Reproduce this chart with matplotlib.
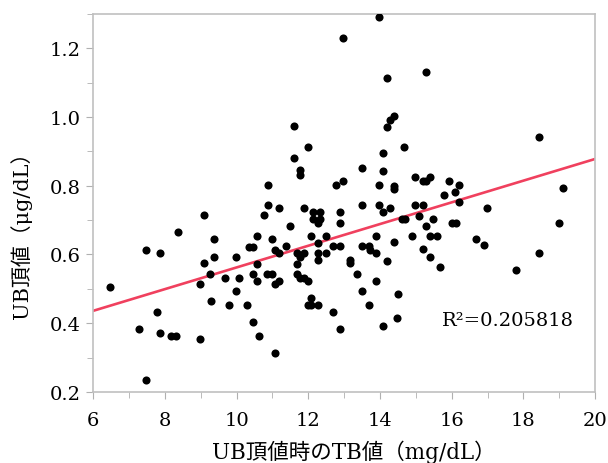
import numpy as np
import matplotlib
matplotlib.use("Agg")
import matplotlib.pyplot as plt
from matplotlib.ticker import MultipleLocator

# TB value at UB peak (mg/dL) and UB peak value (ug/dL)
tb_vals = [
    6.47, 7.27, 7.48, 7.48, 7.78, 7.87, 7.87, 8.17, 8.30, 8.38,
    8.98, 8.98, 9.08, 9.08, 9.26, 9.28, 9.37, 9.37, 9.67, 9.78,
    9.98, 9.98, 10.08, 10.28, 10.34, 10.47, 10.56, 10.56, 10.47, 10.56,
    10.47, 10.64,
    10.89, 10.89, 10.77, 11.19, 11.49, 11.88, 10.98, 11.08, 11.19, 11.39,
    11.68, 11.77, 11.88, 11.68, 10.84, 10.98, 11.08, 11.19, 11.68, 11.77,
    11.88, 11.98, 12.07, 11.98, 12.07, 12.28, 12.68, 12.89, 11.08, 12.07,
    12.28, 12.49, 12.28, 12.49, 12.28, 12.68, 12.89, 12.14, 12.33, 12.14,
    12.33, 12.28, 12.89, 12.89, 12.78, 12.98, 13.17, 13.17, 11.59, 11.99,
    11.59, 11.77, 11.77, 12.98,
    13.49, 13.49, 13.98, 14.08, 14.08, 14.19, 14.28, 14.39, 14.39, 14.39,
    13.98, 14.08, 14.28, 13.89, 14.39, 13.49, 13.68, 13.73, 13.89, 14.19,
    13.37, 13.89, 13.49, 13.68, 14.51, 14.47, 14.08, 13.98, 15.29, 14.19,
    14.68,
    14.98, 15.19, 15.29, 15.40, 15.91, 16.21, 16.09, 15.79, 16.21, 16.99,
    14.98, 15.19, 15.10, 14.61, 14.70, 15.49, 15.29, 16.00, 16.12, 14.88,
    15.38, 15.58, 15.19, 16.68, 16.90, 18.42, 15.38, 15.68, 17.79, 18.42,
    19.10, 18.99,
]
ub_vals = [
    0.504, 0.384, 0.235, 0.614, 0.433, 0.603, 0.373, 0.364, 0.364, 0.664,
    0.353, 0.513, 0.714, 0.575, 0.544, 0.464, 0.644, 0.593, 0.533, 0.454,
    0.593, 0.494, 0.533, 0.454, 0.622, 0.622, 0.654, 0.572, 0.544, 0.524,
    0.403, 0.364,
    0.803, 0.744, 0.714, 0.734, 0.683, 0.734, 0.644, 0.614, 0.604, 0.624,
    0.604, 0.594, 0.604, 0.572, 0.544, 0.544, 0.513, 0.524, 0.544, 0.533,
    0.533, 0.524, 0.473, 0.454, 0.454, 0.454, 0.433, 0.384, 0.314, 0.654,
    0.633, 0.654, 0.604, 0.604, 0.584, 0.624, 0.624, 0.724, 0.724, 0.703,
    0.703, 0.693, 0.724, 0.693, 0.803, 0.813, 0.584, 0.575, 0.973, 0.913,
    0.882, 0.845, 0.832, 1.231,
    0.852, 0.744, 0.803, 0.895, 0.843, 0.972, 0.990, 1.004, 0.800, 0.790,
    0.744, 0.724, 0.734, 0.654, 0.635, 0.626, 0.626, 0.614, 0.604, 0.582,
    0.544, 0.524, 0.494, 0.454, 0.484, 0.414, 0.393, 1.292, 1.131, 1.112,
    0.913,
    0.824, 0.815, 0.815, 0.824, 0.815, 0.803, 0.783, 0.773, 0.753, 0.734,
    0.744, 0.744, 0.713, 0.703, 0.703, 0.703, 0.683, 0.693, 0.693, 0.654,
    0.654, 0.654, 0.616, 0.645, 0.627, 0.942, 0.594, 0.563, 0.554, 0.604,
    0.792, 0.693,
]

# regression line end points
fit_x = [6, 20]
fit_y = [0.436, 0.878]
r2_text = "R\u00b2=0.205818"

fonts = ["DejaVu Serif", "Noto Sans CJK JP", "DejaVu Sans"]
plt.rcParams["font.family"] = fonts

fig = plt.figure(figsize=(6.08, 4.64), dpi=100)
ax = fig.add_axes([0.153, 0.153, 0.826, 0.815])

ax.scatter(tb_vals, ub_vals, s=34, color="black", zorder=3, linewidths=0)
ax.plot(fit_x, fit_y, color="#f0405e", linewidth=1.9, zorder=2)

ax.set_xlim(6, 20)
ax.set_ylim(0.2, 1.3)
ax.xaxis.set_major_locator(MultipleLocator(2))
ax.xaxis.set_minor_locator(MultipleLocator(1))
ax.yaxis.set_minor_locator(MultipleLocator(0.1))
ax.set_yticks([0.2, 0.4, 0.6, 0.8, 1.0, 1.2])
ax.set_yticklabels(["0.2", "0.4", "0.6", "0.8", "1.0", "1.2"])

for sp in ax.spines.values():
    sp.set_color("#c0c0c0")
    sp.set_linewidth(1.2)
ax.tick_params(which="both", direction="out", color="#b0b0b0", labelsize=14,
               labelcolor="black")
ax.tick_params(which="major", length=5)
ax.tick_params(which="minor", length=4)
ax.tick_params(axis="x", which="major", pad=9)
ax.tick_params(axis="y", which="major", pad=4)

ax.set_xlabel("UB頂値時のTB値（mg/dL）", fontsize=15.5)
ax.xaxis.set_label_coords(0.52, -0.125)
ax.set_ylabel("UB頂値（μg/dL）", fontsize=15)
ax.yaxis.set_label_coords(-0.122, 0.43)

ax.text(15.72, 0.41, r2_text, fontsize=14, va="center", ha="left")

fig.savefig("out.png", dpi=100)
